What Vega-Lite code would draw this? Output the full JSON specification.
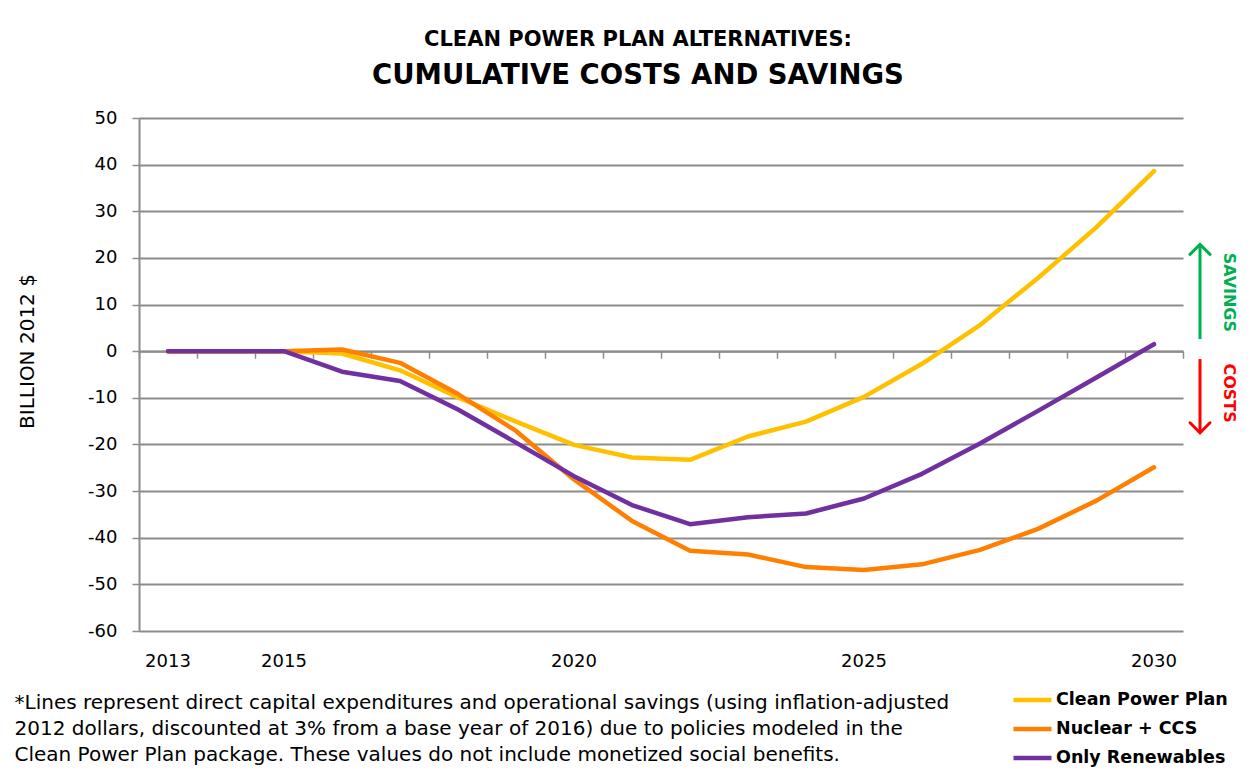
{
  "$schema": "https://vega.github.io/schema/vega-lite/v6.json",
  "width": 1044,
  "height": 513,
  "autosize": {"type": "none"},
  "padding": {"left": 139, "top": 118, "right": 67, "bottom": 143},
  "config": {"font": "DejaVu Sans", "view": {"stroke": null}},
  "title": {
    "text": "CLEAN POWER PLAN ALTERNATIVES:",
    "subtitle": "CUMULATIVE COSTS AND SAVINGS",
    "anchor": "middle",
    "frame": "group",
    "dx": -23,
    "fontSize": 21,
    "fontWeight": "bold",
    "color": "#000000",
    "subtitleFontSize": 27.5,
    "subtitleFontWeight": "bold",
    "subtitleColor": "#000000",
    "subtitlePadding": 12,
    "offset": 20
  },
  "datasets": {
    "costs": [
      {"year": 2013, "series": "Clean Power Plan", "value": 0},
      {"year": 2014, "series": "Clean Power Plan", "value": 0},
      {"year": 2015, "series": "Clean Power Plan", "value": 0},
      {"year": 2016, "series": "Clean Power Plan", "value": -0.5},
      {"year": 2017, "series": "Clean Power Plan", "value": -4.1},
      {"year": 2018, "series": "Clean Power Plan", "value": -9.9},
      {"year": 2019, "series": "Clean Power Plan", "value": -15.1},
      {"year": 2020, "series": "Clean Power Plan", "value": -20.1},
      {"year": 2021, "series": "Clean Power Plan", "value": -22.8},
      {"year": 2022, "series": "Clean Power Plan", "value": -23.3},
      {"year": 2023, "series": "Clean Power Plan", "value": -18.3},
      {"year": 2024, "series": "Clean Power Plan", "value": -15.1},
      {"year": 2025, "series": "Clean Power Plan", "value": -9.8},
      {"year": 2026, "series": "Clean Power Plan", "value": -2.7},
      {"year": 2027, "series": "Clean Power Plan", "value": 5.6},
      {"year": 2028, "series": "Clean Power Plan", "value": 15.7},
      {"year": 2029, "series": "Clean Power Plan", "value": 26.5},
      {"year": 2030, "series": "Clean Power Plan", "value": 38.6},
      {"year": 2013, "series": "Nuclear + CCS", "value": 0},
      {"year": 2014, "series": "Nuclear + CCS", "value": 0},
      {"year": 2015, "series": "Nuclear + CCS", "value": 0},
      {"year": 2016, "series": "Nuclear + CCS", "value": 0.35},
      {"year": 2017, "series": "Nuclear + CCS", "value": -2.5},
      {"year": 2018, "series": "Nuclear + CCS", "value": -9.2},
      {"year": 2019, "series": "Nuclear + CCS", "value": -17.1},
      {"year": 2020, "series": "Nuclear + CCS", "value": -27.5},
      {"year": 2021, "series": "Nuclear + CCS", "value": -36.4},
      {"year": 2022, "series": "Nuclear + CCS", "value": -42.8},
      {"year": 2023, "series": "Nuclear + CCS", "value": -43.6},
      {"year": 2024, "series": "Nuclear + CCS", "value": -46.3},
      {"year": 2025, "series": "Nuclear + CCS", "value": -46.9},
      {"year": 2026, "series": "Nuclear + CCS", "value": -45.7},
      {"year": 2027, "series": "Nuclear + CCS", "value": -42.6},
      {"year": 2028, "series": "Nuclear + CCS", "value": -38.1},
      {"year": 2029, "series": "Nuclear + CCS", "value": -32.1},
      {"year": 2030, "series": "Nuclear + CCS", "value": -24.9},
      {"year": 2013, "series": "Only Renewables", "value": 0},
      {"year": 2014, "series": "Only Renewables", "value": 0},
      {"year": 2015, "series": "Only Renewables", "value": 0},
      {"year": 2016, "series": "Only Renewables", "value": -4.4},
      {"year": 2017, "series": "Only Renewables", "value": -6.4},
      {"year": 2018, "series": "Only Renewables", "value": -12.5},
      {"year": 2019, "series": "Only Renewables", "value": -19.6},
      {"year": 2020, "series": "Only Renewables", "value": -26.8},
      {"year": 2021, "series": "Only Renewables", "value": -33.0},
      {"year": 2022, "series": "Only Renewables", "value": -37.1},
      {"year": 2023, "series": "Only Renewables", "value": -35.6},
      {"year": 2024, "series": "Only Renewables", "value": -34.8},
      {"year": 2025, "series": "Only Renewables", "value": -31.6},
      {"year": 2026, "series": "Only Renewables", "value": -26.3},
      {"year": 2027, "series": "Only Renewables", "value": -19.8},
      {"year": 2028, "series": "Only Renewables", "value": -12.8},
      {"year": 2029, "series": "Only Renewables", "value": -5.7},
      {"year": 2030, "series": "Only Renewables", "value": 1.5}
    ]
  },
  "resolve": {"axis": {"x": "independent"}},
  "layer": [
    {
      "data": {"name": "costs"},
      "mark": {"type": "line", "strokeWidth": 4.5, "strokeCap": "round", "strokeJoin": "round"},
      "encoding": {
        "x": {
          "field": "year", "type": "ordinal",
          "scale": {"type": "band", "paddingInner": 0, "paddingOuter": 0},
          "axis": {
            "orient": "bottom", "offset": -279.8, "tickBand": "extent",
            "labels": false, "title": null, "grid": false,
            "domain": true, "domainColor": "#8c8c8c", "domainWidth": 2,
            "ticks": true, "tickColor": "#8c8c8c", "tickWidth": 1.5, "tickSize": 7
          }
        },
        "y": {
          "field": "value", "type": "quantitative",
          "scale": {"domain": [-60, 50], "nice": false, "zero": false},
          "axis": {
            "values": [-60, -50, -40, -30, -20, -10, 0, 10, 20, 30, 40, 50],
            "labelExpr": "'' + datum.value",
            "title": "BILLION 2012 $", "titleFontSize": 20, "titleFontWeight": "normal",
            "titleColor": "#000000", "titlePadding": 50, "titleY": 233,
            "labelFontSize": 18, "labelColor": "#000000", "labelPadding": 15,
            "grid": true, "gridColor": "#8c8c8c", "gridWidth": 2,
            "domain": true, "domainColor": "#8c8c8c", "domainWidth": 2,
            "ticks": true, "tickColor": "#8c8c8c", "tickWidth": 1.5, "tickSize": 7
          }
        },
        "color": {
          "field": "series", "type": "nominal",
          "scale": {
            "domain": ["Clean Power Plan", "Nuclear + CCS", "Only Renewables"],
            "range": ["#FFC000", "#FF8000", "#7030A0"]
          },
          "legend": {
            "orient": "none", "legendX": 872, "legendY": 572, "title": null,
            "symbolType": "stroke", "symbolSize": 1444, "symbolStrokeWidth": 4.5,
            "labelFontSize": 17.5, "labelFontWeight": "bold", "labelColor": "#000000",
            "labelOffset": 2, "labelLimit": 400, "clipHeight": 20, "rowPadding": 9
          }
        }
      }
    },
    {
      "data": {"values": [{"year": 2030, "value": 12.6, "label": "SAVINGS"}]},
      "mark": {"type": "text", "angle": 90, "xOffset": 75, "fontSize": 16, "fontWeight": "bold", "color": "#00B050", "align": "center", "baseline": "middle"},
      "encoding": {
        "x": {
          "field": "year", "type": "ordinal",
          "axis": {
            "orient": "bottom", "values": [2013, 2015, 2020, 2025, 2030],
            "ticks": false, "tickSize": 0, "domain": false, "grid": false,
            "labelFontSize": 18, "labelColor": "#000000", "labelPadding": 21, "labelAngle": 0,
            "title": [
              "*Lines represent direct capital expenditures and operational savings (using inflation-adjusted",
              "2012 dollars, discounted at 3% from a base year of 2016) due to policies modeled in the",
              "Clean Power Plan package. These values do not include monetized social benefits."
            ],
            "titleX": -125, "titleY": 61, "titleAlign": "left", "titleAnchor": "start",
            "titleBaseline": "top", "titleFontSize": 20, "titleFontWeight": "normal",
            "titleColor": "#000000", "titleLineHeight": 26
          }
        },
        "y": {"field": "value", "type": "quantitative"},
        "text": {"field": "label"}
      }
    },
    {
      "data": {"values": [{"year": 2030, "value": -9.0, "label": "COSTS"}]},
      "mark": {"type": "text", "angle": 90, "xOffset": 75, "fontSize": 16, "fontWeight": "bold", "color": "#FF0000", "align": "center", "baseline": "middle"},
      "encoding": {
        "x": {"field": "year", "type": "ordinal", "axis": null},
        "y": {"field": "value", "type": "quantitative"},
        "text": {"field": "label"}
      }
    },
    {
      "data": {"values": [{"year": 2030, "from": 2.6, "to": 22.6}]},
      "mark": {"type": "rule", "xOffset": 46, "strokeWidth": 3, "color": "#00B050"},
      "encoding": {
        "x": {"field": "year", "type": "ordinal", "axis": null},
        "y": {"field": "from", "type": "quantitative"},
        "y2": {"field": "to"}
      }
    },
    {
      "data": {"values": [{"year": 2030, "tip": 22.9}]},
      "mark": {"type": "point", "shape": "M-1,1L0,0L1,1", "size": 400, "filled": false, "strokeWidth": 3, "xOffset": 46, "color": "#00B050", "opacity": 1, "strokeCap": "round"},
      "encoding": {
        "x": {"field": "year", "type": "ordinal", "axis": null},
        "y": {"field": "tip", "type": "quantitative"}
      }
    },
    {
      "data": {"values": [{"year": 2030, "from": -1.7, "to": -17.2}]},
      "mark": {"type": "rule", "xOffset": 46, "strokeWidth": 3, "color": "#FF0000"},
      "encoding": {
        "x": {"field": "year", "type": "ordinal", "axis": null},
        "y": {"field": "from", "type": "quantitative"},
        "y2": {"field": "to"}
      }
    },
    {
      "data": {"values": [{"year": 2030, "tip": -17.5}]},
      "mark": {"type": "point", "shape": "M-1,-1L0,0L1,-1", "size": 400, "filled": false, "strokeWidth": 3, "xOffset": 46, "color": "#FF0000", "opacity": 1, "strokeCap": "round"},
      "encoding": {
        "x": {"field": "year", "type": "ordinal", "axis": null},
        "y": {"field": "tip", "type": "quantitative"}
      }
    }
  ]
}
